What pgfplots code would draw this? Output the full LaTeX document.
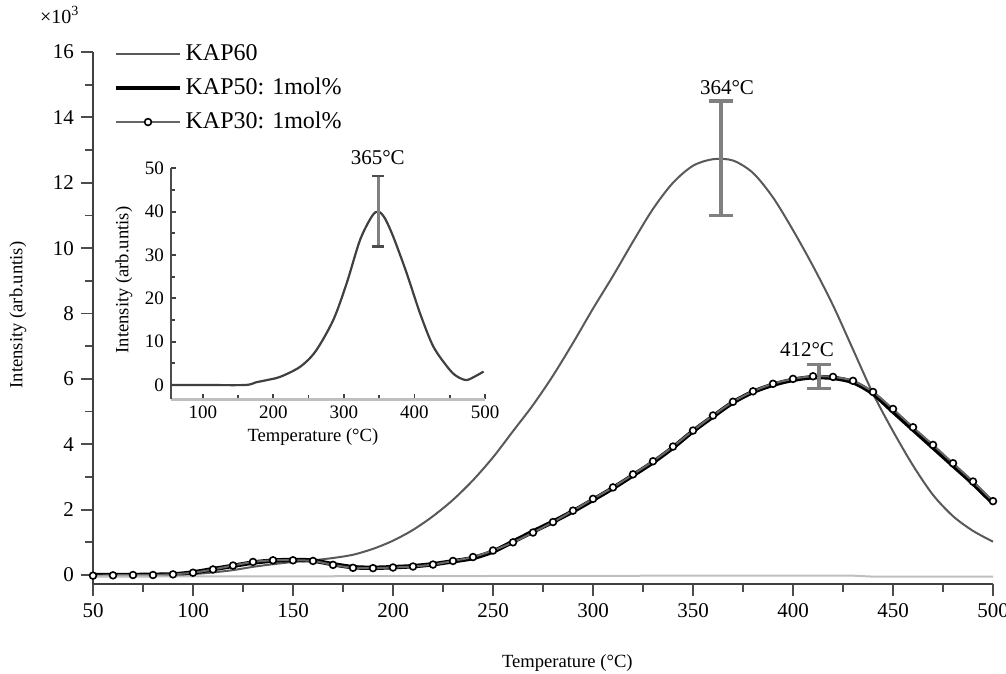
\documentclass[border=0pt]{standalone}
\usepackage{pgfplots}
\pgfplotsset{compat=1.18}
\usepackage{fontspec}
\setmainfont{Liberation Serif}

\pgfplotstableread{
T v
50 0
80 0
100 0.03
110 0.08
120 0.15
130 0.25
140 0.33
150 0.40
160 0.45
170 0.52
180 0.62
190 0.80
200 1.05
210 1.38
220 1.80
230 2.30
240 2.90
250 3.60
260 4.40
270 5.20
280 6.10
290 7.10
300 8.15
310 9.15
320 10.20
330 11.20
340 12.00
350 12.52
360 12.72
370 12.68
380 12.30
390 11.55
400 10.55
410 9.45
420 8.25
430 6.90
440 5.55
450 4.40
460 3.35
470 2.45
480 1.80
490 1.35
500 1.02
}\kapsixty

\pgfplotstableread{
T v
50 0
70 0
90 0.02
100 0.08
110 0.18
120 0.28
130 0.38
140 0.44
150 0.46
160 0.44
170 0.33
180 0.24
190 0.22
200 0.24
210 0.27
220 0.33
230 0.42
240 0.52
250 0.72
260 1.02
270 1.33
280 1.63
290 1.95
300 2.30
310 2.66
320 3.05
330 3.45
340 3.90
350 4.40
360 4.85
370 5.28
380 5.60
390 5.82
400 5.97
410 6.05
420 6.03
430 5.90
440 5.55
450 5.00
460 4.45
470 3.90
480 3.35
490 2.80
500 2.20
}\kapfifty

\pgfplotstableread{
T v
50 -0.02
60 -0.01
70 0.00
80 0.00
90 0.02
100 0.07
110 0.17
120 0.29
130 0.40
140 0.45
150 0.45
160 0.43
170 0.31
180 0.22
190 0.21
200 0.23
210 0.26
220 0.32
230 0.43
240 0.55
250 0.75
260 1.00
270 1.30
280 1.62
290 1.97
300 2.33
310 2.68
320 3.08
330 3.48
340 3.93
350 4.42
360 4.88
370 5.30
380 5.62
390 5.85
400 6.00
410 6.08
420 6.06
430 5.94
440 5.60
450 5.08
460 4.52
470 3.98
480 3.42
490 2.86
500 2.26
}\kapthirty

\pgfplotstableread{
T v
50 -0.04
150 -0.04
250 -0.03
350 -0.02
430 -0.02
440 -0.05
500 -0.05
}\kapflat

\pgfplotstableread{
T v
55 0
100 0
160 0
175 0.6
190 1.1
210 1.9
238 4.2
260 7.8
285 15
304 23.5
323 33.5
340 39
349 40
358 38.5
370 34.2
389 25.8
408 16.5
427 8.8
450 3.5
462 1.8
474 1.15
486 2.0
498 3.1
}\inset

\begin{document}
\begin{tikzpicture}
\begin{axis}[
  name=main,
  at={(0pt,0pt)}, anchor=south west,
  scale only axis, width=450pt, height=266pt,
  xmin=50, xmax=500, ymin=-0.275, ymax=16,
  axis x line*=bottom, axis y line*=left,
  xtick={50,100,...,500}, minor x tick num=1,
  ytick={0,2,...,16}, minor y tick num=1,
  tick align=outside,
  major tick length=6pt, minor tick length=4pt,
  tick style={black!70, line width=0.9pt},
  axis line style={black!75, line width=0.9pt},
  tick label style={font=\fontsize{10.5}{12}\selectfont},
  /pgf/number format/assume math mode=true,
  xlabel={Temperature (°C)}, ylabel={Intensity (arb.untis)},
  label style={font=\fontsize{9.3}{11}\selectfont},
  xlabel style={at={(axis description cs:0.527,-0.1485)}, anchor=center},
  ylabel style={at={(axis description cs:-0.0833,0.5056)}, anchor=center},
  clip=false,
  legend style={draw=none, fill=none, at={(0.0167,1.0293)}, anchor=north west,
    font=\fontsize{12}{14}\selectfont, row sep=3.2pt},
  legend cell align=left,
  legend image code/.code={\draw[mark repeat=2,mark phase=2,#1] plot coordinates {(0pt,0pt) (16pt,0pt) (32pt,0pt)};},
]
\addplot[black!65, line width=1pt, smooth] table[x=T,y=v] {\kapsixty};
\addlegendentry{KAP60}
\addplot[black, line width=2.2pt, smooth, legend image post style={line width=1.6pt}] table[x=T,y=v] {\kapfifty};
\addlegendentry{KAP50: 1mol\%}
\addplot[black!60, line width=1pt, smooth, mark=*, mark size=1.7pt,
  mark options={solid, fill=white, draw=black, line width=0.8pt}] table[x=T,y=v] {\kapthirty};
\addlegendentry{KAP30: 1mol\%}
\addplot[black!25, line width=1pt, forget plot] table[x=T,y=v] {\kapflat};

\addplot[draw=none, forget plot,
  error bars/.cd, y dir=both, y explicit,
  error bar style={draw=black!50, line width=1.6pt},
  error mark options={rotate=90, draw=black!50, mark size=6.2pt, line width=1.6pt}]
  coordinates {(364,12.75) +- (0,1.75)};
\addplot[draw=none, forget plot,
  error bars/.cd, y dir=both, y explicit,
  error bar style={draw=black!50, line width=1.6pt},
  error mark options={rotate=90, draw=black!50, mark size=6.2pt, line width=1.6pt}]
  coordinates {(413,6.08) +- (0,0.37)};

\node[font=\fontsize{10.5}{12}\selectfont] at (axis cs:367,14.92) {364°C};
\node[font=\fontsize{10.5}{12}\selectfont] at (axis cs:407,6.88) {412°C};
\node[font=\fontsize{10}{12}\selectfont] at (rel axis cs:-0.037,1.0695) {×10\textsuperscript{3}};
\end{axis}

\begin{axis}[
  at={(39pt,92.35pt)}, anchor=south west,
  scale only axis, width=157pt, height=115.5pt,
  xmin=55, xmax=500, ymin=-3.3, ymax=50,
  axis x line*=bottom, axis y line*=left,
  xtick={100,200,...,500}, minor x tick num=1,
  ytick={0,10,...,50}, minor y tick num=1,
  tick align=inside,
  major tick length=2.5pt, minor tick length=2pt,
  tick style={black!75, line width=0.9pt},
  x axis line style={black!25, line width=1.4pt},
  y axis line style={black!70, line width=1.2pt},
  tick label style={font=\fontsize{9.5}{11}\selectfont},
  /pgf/number format/assume math mode=true,
  xlabel={Temperature (°C)}, ylabel={Intensity (arb.untis)},
  label style={font=\fontsize{9.3}{11}\selectfont},
  xlabel style={at={(axis description cs:0.452,-0.163)}, anchor=center},
  ylabel style={at={(axis description cs:-0.15,0.516)}, anchor=center},
  clip=false,
]
\addplot[black!75, line width=1.1pt, smooth] table[x=T,y=v] {\inset};
\addplot[draw=none,
  error bars/.cd, y dir=both, y explicit,
  error bar style={draw=black!50, line width=1.4pt},
  error mark options={rotate=90, draw=black!70, mark size=3pt, line width=1.4pt}]
  coordinates {(349,40.05) +- (0,8.15)};
\node[font=\fontsize{10.5}{12}\selectfont] at (axis cs:348,52.4) {365°C};
\end{axis}

\pgfresetboundingbox
\path[use as bounding box] (-46.5pt,-45pt) rectangle (456.5pt,292pt);
\end{tikzpicture}
\end{document}
